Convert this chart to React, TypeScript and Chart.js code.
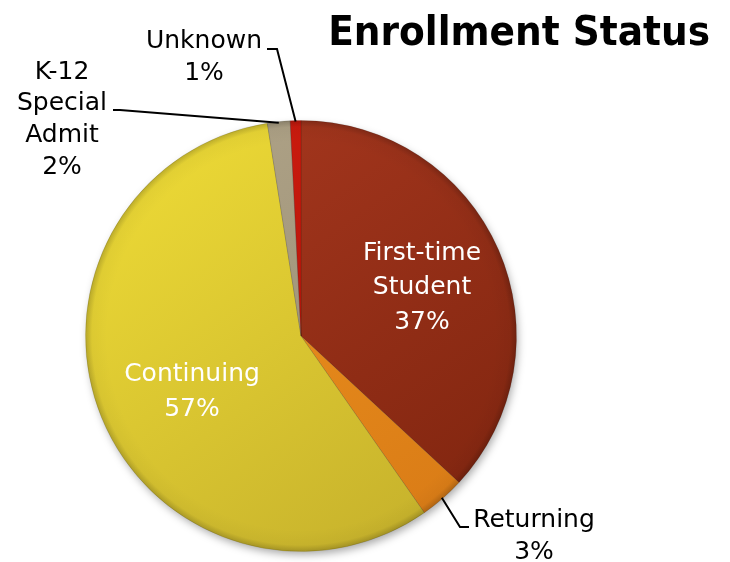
import React, { useEffect, useRef } from 'react';
import { Chart, registerables } from 'chart.js';

Chart.register(...registerables);

const TITLE = 'Enrollment Status';
const categories = ['First-time Student', 'Returning', 'Continuing', 'K-12 Special Admit', 'Unknown'];
const labelLines = [['First-time', 'Student'], ['Returning'], ['Continuing'], ['K-12', 'Special', 'Admit'], ['Unknown']];
const values = [36.9, 3.4, 57.2, 1.7, 0.8];
const colorsTop = ['#A8381F', '#F0961F', '#EEDB36', '#B0A488', '#D01C0F'];
const colorsBottom = ['#80250F', '#D87A16', '#C4AF2B', '#958970', '#A51208'];

type Pt = [number, number];
const labelLayout: { x: number; y: number; lh: number; color: string; leader: Pt[] | null }[] = [
  { x: 422, y: 253, lh: 34.5, color: '#ffffff', leader: null },
  { x: 534, y: 520, lh: 32, color: '#000000', leader: [[460, 527], [469, 527]] },
  { x: 192, y: 374, lh: 35, color: '#ffffff', leader: null },
  { x: 62, y: 72, lh: 31.7, color: '#000000', leader: [[120, 110], [113, 110]] },
  { x: 204, y: 41, lh: 32, color: '#000000', leader: [[277, 49], [267, 49]] },
];

const LABEL_FONT = '25px "DejaVu Sans", "Open Sans", sans-serif';

const decorPlugin = {
  id: 'decor',
  beforeDatasetsDraw(chart: any) {
    const arc = chart.getDatasetMeta(0).data[0];
    if (!arc) return;
    const { x, y, outerRadius } = arc.getProps(['x', 'y', 'outerRadius'], true);
    const ctx = chart.ctx;
    ctx.save();
    ctx.shadowColor = 'rgba(0,0,0,0.35)';
    ctx.shadowBlur = 9;
    ctx.shadowOffsetX = 2;
    ctx.shadowOffsetY = 4;
    ctx.fillStyle = '#999';
    ctx.beginPath();
    ctx.arc(x, y, outerRadius - 1, 0, Math.PI * 2);
    ctx.fill();
    ctx.restore();
  },
  afterDatasetsDraw(chart: any) {
    const arc = chart.getDatasetMeta(0).data[0];
    if (!arc) return;
    const { x, y, outerRadius } = arc.getProps(['x', 'y', 'outerRadius'], true);
    const ctx = chart.ctx;
    ctx.save();
    ctx.beginPath();
    ctx.arc(x, y, outerRadius, 0, Math.PI * 2);
    ctx.clip();
    const g = ctx.createRadialGradient(x, y, outerRadius * 0.9, x, y, outerRadius);
    g.addColorStop(0, 'rgba(0,0,0,0)');
    g.addColorStop(0.7, 'rgba(0,0,0,0.03)');
    g.addColorStop(1, 'rgba(0,0,0,0.2)');
    ctx.fillStyle = g;
    ctx.fillRect(x - outerRadius, y - outerRadius, outerRadius * 2, outerRadius * 2);
    ctx.restore();
  },
  afterDraw(chart: any) {
    const ctx = chart.ctx;
    const meta = chart.getDatasetMeta(0);
    const total = values.reduce((a, b) => a + b, 0);
    ctx.save();
    // title
    let size = 42;
    ctx.font = `bold ${size}px "DejaVu Sans Condensed", "DejaVu Sans", sans-serif`;
    const w = ctx.measureText(TITLE).width;
    size = size * 382 / w;
    ctx.font = `bold ${size}px "DejaVu Sans Condensed", "DejaVu Sans", sans-serif`;
    ctx.fillStyle = '#000';
    ctx.textAlign = 'right';
    ctx.textBaseline = 'alphabetic';
    ctx.fillText(TITLE, 710, 45);

    // labels
    ctx.font = LABEL_FONT;
    ctx.textAlign = 'center';
    ctx.textBaseline = 'middle';
    meta.data.forEach((el: any, i: number) => {
      const lay = labelLayout[i];
      const pct = Math.round((values[i] / total) * 100);
      const lines = [...labelLines[i], `${pct}%`];
      ctx.fillStyle = lay.color;
      lines.forEach((t, k) => ctx.fillText(t, lay.x, lay.y + k * lay.lh));
      if (lay.leader) {
        const { x, y, startAngle, endAngle, outerRadius } = el.getProps(
          ['x', 'y', 'startAngle', 'endAngle', 'outerRadius'],
          true
        );
        const mid = (startAngle + endAngle) / 2;
        const sx = x + Math.cos(mid) * (outerRadius - 1);
        const sy = y + Math.sin(mid) * (outerRadius - 1);
        ctx.strokeStyle = '#000';
        ctx.lineWidth = 2;
        ctx.beginPath();
        ctx.moveTo(sx, sy);
        lay.leader.forEach(([px, py]) => ctx.lineTo(px, py));
        ctx.stroke();
      }
    });
    ctx.restore();
  },
};

export default function App() {
  const ref = useRef<HTMLCanvasElement | null>(null);
  useEffect(() => {
    if (!ref.current) return;
    const chart = new Chart(ref.current, {
      type: 'pie',
      data: {
        labels: categories,
        datasets: [
          {
            data: values,
            backgroundColor: (c: any) => {
              const i = c.dataIndex;
              const area = c.chart.chartArea;
              if (!area) return colorsTop[i];
              const g = c.chart.ctx.createLinearGradient(area.left + 60, area.top, area.right - 60, area.bottom);
              g.addColorStop(0, colorsTop[i]);
              g.addColorStop(1, colorsBottom[i]);
              return g;
            },
            borderColor: 'rgba(0,0,0,0.12)',
            borderWidth: 1,
          },
        ],
      },
      options: {
        responsive: false,
        animation: false,
        layout: { padding: { left: 85, right: 213, top: 120, bottom: 10 } },
        plugins: {
          legend: { display: false },
          title: { display: false },
          tooltip: { enabled: false },
        },
      },
      plugins: [decorPlugin],
    });
    return () => chart.destroy();
  }, []);
  return (
    <div style={{ position: 'absolute', left: 0, top: 0, width: 730, height: 562 }}>
      <canvas ref={ref} width={730} height={562} />
    </div>
  );
}
